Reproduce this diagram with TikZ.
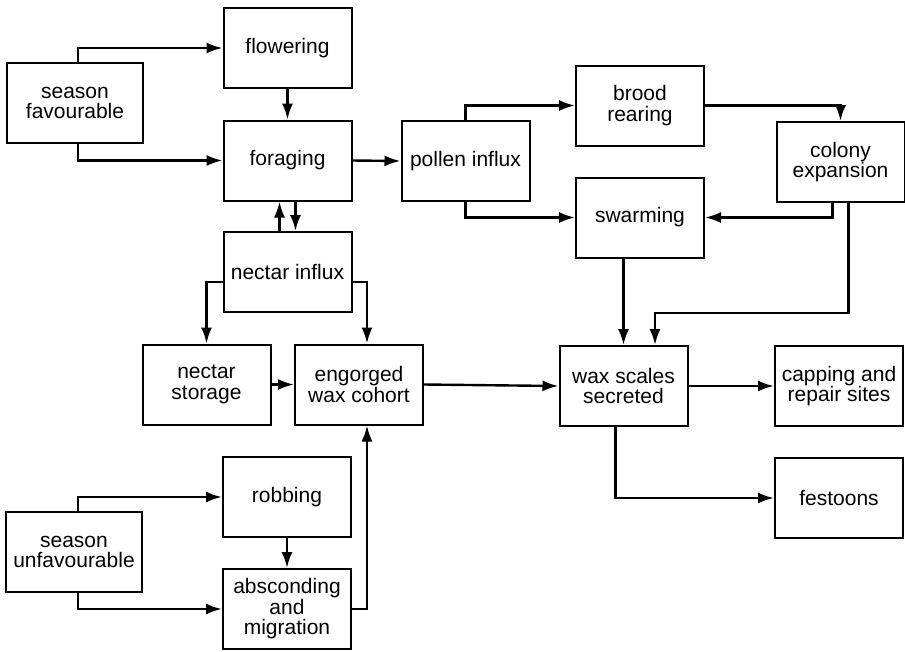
\documentclass[tikz,border=0pt]{standalone}
\usepackage{fontspec}
\setmainfont{Liberation Sans}
\usetikzlibrary{arrows.meta}
\begin{document}
\begin{tikzpicture}[x=1pt,y=-1pt,
  box/.style={draw,line width=2pt,minimum width=128pt,minimum height=80pt,inner sep=0pt,align=center,font=\fontsize{21}{20.5}\selectfont},
  wbox/.style={box,minimum width=136pt},
  arr/.style={line width=2.4pt,-{Latex[length=16pt,width=11pt]}}]
\useasboundingbox (0,0) rectangle (905,651);
\node[wbox] (sf) at (75,103) {season\\favourable};
\node[box] (flow) at (287.5,48) {flowering};
\node[box] (forag) at (287.5,160.5) {foraging};
\node[box] (nect) at (287.5,272) {nectar influx};
\node[box] (poll) at (465.5,161) {pollen influx};
\node[box] (brood) at (640,105.5) {brood\\rearing};
\node[box] (swarm) at (640,217.5) {swarming};
\node[box] (colony) at (840.5,162) {colony\\expansion};
\node[box] (stor) at (206.5,384.5) {nectar\\storage};
\node[box] (engo) at (359,384.5) {engorged\\wax cohort};
\node[box] (rob) at (287,497) {robbing};
\node[box] (absc) at (287,609) {absconding\\and\\migration};
\node[wbox] (su) at (74,552) {season\\unfavourable};
\node[box] (wax) at (623.5,386) {wax scales\\secreted};
\node[box] (cap) at (839,386) {capping and\\repair sites};
\node[box] (fest) at (839,498) {festoons};
\coordinate (cw) at (655,313);
% connectors
\draw[arr] ([xshift=3pt]sf.north) |- (flow.west);
\draw[arr] ([xshift=3pt]sf.south) |- (forag.west);
\draw[arr] (flow.south) -- (forag.north);
\draw[arr] ([xshift=-8pt]nect.north) -- ([xshift=-8pt]forag.south);
\draw[arr] ([xshift=8pt]forag.south) -- ([xshift=8pt]nect.north);
\draw[arr] (forag.east) -- (poll.west);
\draw[arr] ([yshift=-10pt]nect.west) -| (stor.north);
\draw[arr] ([yshift=-10pt]nect.east) -| ([xshift=8pt]engo.north);
\draw[arr] (stor.east) -- (engo.west);
\draw[arr] (engo.east) -- (wax.west);
\draw[arr] (absc.east) -| ([xshift=8pt]engo.south);
\draw[arr] ([xshift=4pt]su.north) |- (rob.west);
\draw[arr] ([xshift=4pt]su.south) |- (absc.west);
\draw[arr] (rob.south) -- (absc.north);
\draw[arr] (poll.north) |- (brood.west);
\draw[arr] (poll.south) |- (swarm.west);
\draw[arr] (brood.east) -| (colony.north);
\draw[arr] ([xshift=-8pt]colony.south) |- (swarm.east);
\draw[arr] (swarm.south -| wax.north) -- (wax.north);
\draw[arr] ([xshift=8pt]colony.south) |- (cw) -- (cw |- wax.north);
\draw[arr] (wax.east) -- (cap.west);
\draw[arr] ([xshift=-8pt]wax.south) |- (fest.west);
\end{tikzpicture}
\end{document}
